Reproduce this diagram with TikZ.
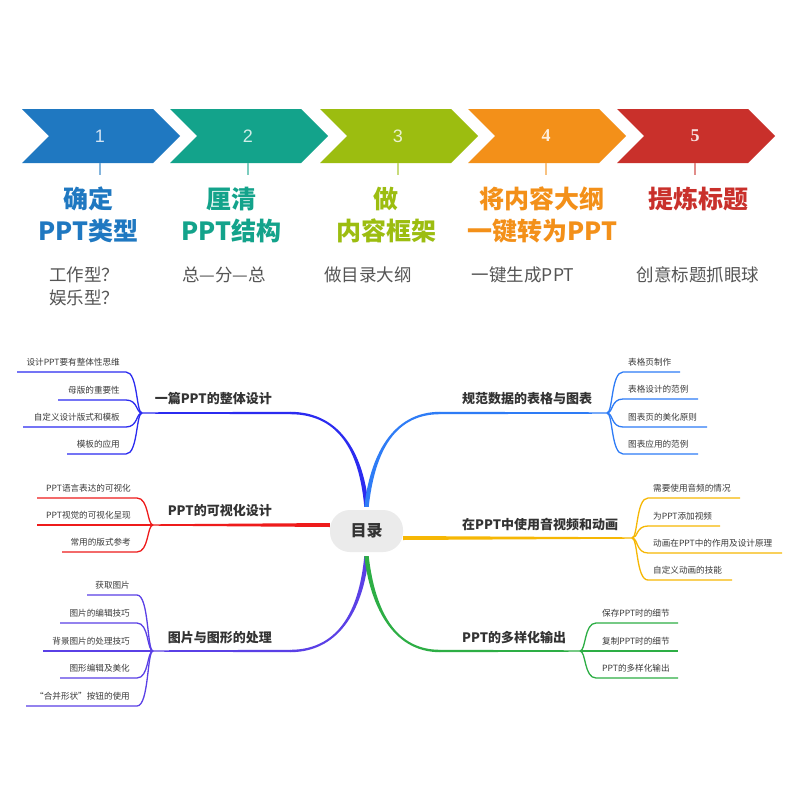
\documentclass[tikz,border=0pt]{standalone}
\usepackage{fontspec}
\newfontfamily\cjk{Noto Sans CJK SC}
\newfontfamily\serf{Liberation Serif}
\newfontfamily\sanf{Liberation Sans}
\usetikzlibrary{calc}
\definecolor{c1}{HTML}{1F78C1}
\definecolor{c2}{HTML}{13A38B}
\definecolor{c3}{HTML}{9CBD10}
\definecolor{c4}{HTML}{F39019}
\definecolor{c5}{HTML}{C9302B}
\definecolor{bA}{HTML}{2B2BF0}
\definecolor{bR}{HTML}{EE1B1B}
\definecolor{bP}{HTML}{5A40E6}
\definecolor{bB}{HTML}{2E7CF6}
\definecolor{bY}{HTML}{F6B704}
\definecolor{bG}{HTML}{2DAE45}
\definecolor{txt}{HTML}{333333}
\definecolor{subt}{HTML}{555555}
\definecolor{leaftc}{HTML}{3A3A3A}
% tapered curve: colour, P0, P1, P2, P3, signed half width at end
\newcommand\taperc[6]{\fill[#1] ($(#2)+(0,-1.2)$) .. controls ($(#3)+(0,-1.2)$) and ($(#4)+(#6,0)$) .. ($(#5)+(#6,0)$) -- ($(#5)+({-(#6)},0)$) .. controls ($(#4)+({-(#6)},0)$) and ($(#3)+(0,1.2)$) .. ($(#2)+(0,1.2)$) -- cycle;}
\begin{document}
\begin{tikzpicture}[x=1pt,y=-1pt,
  numtxt/.style={font=\sanf\fontsize{18}{20}\selectfont, inner sep=0},
  ttl/.style={font=\cjk\bfseries\fontsize{25}{32}\selectfont, align=center, inner sep=0},
  subtx/.style={font=\cjk\fontsize{17.5}{23}\selectfont, align=center, text=subt, inner sep=0},
  tick/.style={line width=1.3pt},
  leaftxt/.style={font=\cjk\fontsize{8.6}{10}\selectfont, text=leaftc, inner sep=0},
  brtxt/.style={font=\cjk\bfseries\fontsize{13}{15}\selectfont, text=txt, inner sep=0},
  leafline/.style={line width=1.3pt}
]
\useasboundingbox (0,0) rectangle (800,800);
\fill[white] (0,0) rectangle (800,800);

% ---- chevrons
\foreach \x/\c in {22/c1,170/c2,320/c3,468/c4,617/c5}{
  \fill[\c] (\x,109) -- ++(131,0) -- ++(27,27) -- ++(-27,27) -- ++(-131,0) -- ++(27,-27) -- cycle;
  \draw[tick,\c!55] ({\x+78},163) -- ({\x+78},175);
}
\node[numtxt, text=white!80!c1] (n1) at (100,136) {1};
\node[numtxt, text=white!80!c2] (n2) at (248,136) {2};
\node[numtxt, text=white!80!c3] (n3) at (398,136) {3};
\node[numtxt, font=\serf\bfseries\fontsize{18}{20}\selectfont, text=white!85!c4] (n4) at (546,136) {4};
\node[numtxt, font=\serf\bfseries\fontsize{18}{20}\selectfont, text=white!85!c5] (n5) at (695,136) {5};

% ---- titles
\node[ttl, text=c1] (t1) at (88,215) {确定\\PPT类型};
\node[ttl, text=c2] (t2) at (231,215) {厘清\\PPT结构};
\node[ttl, text=c3] (t3) at (386,215) {做\\内容框架};
\node[ttl, text=c4] (t4) at (542,215) {将内容大纲\\一键转为PPT};
\node[ttl, text=c5] (t5) at (698,199) {提炼标题};

\node[subtx] (s1) at (84,286.5) {工作型？\\娱乐型？};
\node[subtx] (s2) at (224,275) {总—分—总};
\node[subtx] (s3) at (368,275) {做目录大纲};
\node[subtx] (s4) at (523,275) {一键生成PPT};
\node[subtx] (s5) at (698,275) {创意标题抓眼球};

% ---- mind map root
\node[fill=black!8, rounded corners=20pt, minimum width=73pt, minimum height=42pt,
      font=\cjk\bfseries\fontsize{16}{18}\selectfont, text=txt] (root) at (366.5,531) {目录};
\coordinate (top) at ([yshift=3pt]root.north);
\coordinate (bot) at ([yshift=-4pt]root.south);

% fork points
\coordinate (fA) at (142,413);
\coordinate (fR) at (153,525);
\coordinate (fP) at (153,651);
\coordinate (fB) at (607,413);
\coordinate (fY) at (632,538);
\coordinate (fG) at (580,651);

% ---- main branches
% left blue
\fill[bA] (142,412.3) -- (290.5,411.8) -- (290.5,414.2) -- (142,413.7) -- cycle;
\taperc{bA}{290,413}{343,413}{362,458}{top}{2.2}
% red
\fill[bR] (153,524.3) -- ([yshift=8pt]root.west) -- ([yshift=4pt]root.west) -- (153,525.7) -- cycle;
% purple
\fill[bP] (153,650.3) -- (290.5,649.8) -- (290.5,652.2) -- (153,651.7) -- cycle;
\taperc{bP}{290,651}{343,651}{362,603}{bot}{-2.2}
% right blue
\fill[bB] (607,412.3) -- (439.5,411.8) -- (439.5,414.2) -- (607,413.7) -- cycle;
\taperc{bB}{440,413}{391,413}{372,458}{top}{-2.2}
% yellow
\fill[bY] (632,537.3) -- ([yshift=-5pt]root.east) -- ([yshift=-9pt]root.east) -- (632,538.7) -- cycle;
% green
\fill[bG] (580,650.3) -- (439.5,649.8) -- (439.5,652.2) -- (580,651.7) -- cycle;
\taperc{bG}{440,651}{391,651}{372,603}{bot}{2.2}

% ---- branch labels
\node[brtxt, anchor=base east] (lA) at (272,403) {一篇PPT的整体设计};
\node[brtxt, anchor=base east] (lR) at (272,515) {PPT的可视化设计};
\node[brtxt, anchor=base east] (lP) at (272,642) {图片与图形的处理};
\node[brtxt, anchor=base west] (lB) at (462,403) {规范数据的表格与图表};
\node[brtxt, anchor=base west] (lY) at (462,529) {在PPT中使用音视频和动画};
\node[brtxt, anchor=base west] (lG) at (462,642) {PPT的多样化输出};

% ---- leaves, left side
\foreach \yy/\xl/\t [count=\i] in {372/17/设计PPT要有整体性思维,400/58/母版的重要性,427/23/自定义设计版式和模板,454/67/模板的应用}{
  \draw[bA, leafline] (fA) .. controls (136,413) and (138,\yy) .. (126,\yy) -- (\xl,\yy);
  \node[leaftxt, anchor=base east] (tA\i) at (120,{\yy-6.5}) {\t};
}
\foreach \yy/\xl/\t [count=\i] in {498/37/PPT语言表达的可视化,525/37/PPT视觉的可视化呈现,552/62/常用的版式参考}{
  \draw[bR, leafline] (fR) .. controls (147,525) and (149,\yy) .. (137,\yy) -- (\xl,\yy);
  \node[leaftxt, anchor=base east] (tR\i) at (131,{\yy-6.5}) {\t};
}
\foreach \yy/\xl/\t [count=\i] in {595/87/获取图片,623/60/图片的编辑技巧,651/43/背景图片的处理技巧,678/60/图形编辑及美化,706/26/“合并形状”按钮的使用}{
  \draw[bP, leafline] (fP) .. controls (147,651) and (149,\yy) .. (137,\yy) -- (\xl,\yy);
  \node[leaftxt, anchor=base east] (tP\i) at (130,{\yy-6.5}) {\t};
}
% ---- leaves, right side
\foreach \yy/\xr/\t [count=\i] in {372/680/表格页制作,399/698/表格设计的范例,427/707/图表页的美化原则,454/698/图表应用的范例}{
  \draw[bB, leafline] (fB) .. controls (613,413) and (611,\yy) .. (623,\yy) -- (\xr,\yy);
  \node[leaftxt, anchor=base west] (tB\i) at (628,{\yy-6.5}) {\t};
}
\foreach \yy/\xr/\t [count=\i] in {498/740/需要使用音频的情况,526/720/为PPT添加视频,553/782/动画在PPT中的作用及设计原理,580/732/自定义动画的技能}{
  \draw[bY, leafline] (fY) .. controls (638,538) and (636,\yy) .. (648,\yy) -- (\xr,\yy);
  \node[leaftxt, anchor=base west] (tY\i) at (653,{\yy-6.5}) {\t};
}
\foreach \yy/\xr/\t [count=\i] in {623/678/保存PPT时的细节,651/678/复制PPT时的细节,678/678/PPT的多样化输出}{
  \draw[bG, leafline] (fG) .. controls (586,651) and (584,\yy) .. (596,\yy) -- (\xr,\yy);
  \node[leaftxt, anchor=base west] (tG\i) at (602,{\yy-6.5}) {\t};
}
\end{tikzpicture}
\end{document}
